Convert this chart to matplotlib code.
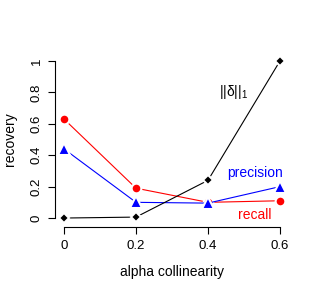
import matplotlib
matplotlib.use('Agg')
import matplotlib.pyplot as plt

plt.rcParams['font.family'] = ['Liberation Sans', 'DejaVu Sans']
plt.rcParams['mathtext.fontset'] = 'custom'
plt.rcParams['mathtext.rm'] = 'Liberation Sans'

alpha = [0, 0.2, 0.4, 0.6]
delta_norm = [0.0, 0.006, 0.24, 1.0]
recall = [0.63, 0.19, 0.10, 0.11]
precision = [0.44, 0.10, 0.095, 0.20]

fig = plt.figure(figsize=(3.16, 2.94), dpi=100)
ax = fig.add_axes([0.1753, 0.237, 0.738, 0.577])

ax.plot(alpha, recall, color='red', lw=0.8, marker='o', ms=7,
        mec='white', mew=1.5, mfc='red', zorder=3)
ax.plot(alpha, precision, color='blue', lw=0.8, marker='^', ms=8,
        mec='white', mew=1.5, mfc='blue', zorder=4)
ax.plot(alpha, delta_norm, color='black', lw=0.8, marker='D', ms=5.5,
        mec='white', mew=1.5, mfc='black', zorder=5)

ax.text(0.47, 0.80, r'$\mathrm{||δ||_1}$', color='black', fontsize=10, ha='center', va='center')
ax.text(0.53, 0.285, 'precision', color='blue', fontsize=10, ha='center', va='center')
ax.text(0.53, 0.02, 'recall', color='red', fontsize=10, ha='center', va='center')

ax.set_xlim(-0.024, 0.624)
ax.set_ylim(-0.04, 1.04)
ax.set_xticks([0, 0.2, 0.4, 0.6])
ax.set_xticklabels(['0', '0.2', '0.4', '0.6'])
ax.set_yticks([0, 0.2, 0.4, 0.6, 0.8, 1])
ax.set_yticklabels(['0', '0.2', '0.4', '0.6', '0.8', '1'], rotation=90, va='center')

for s in ['top', 'right']:
    ax.spines[s].set_visible(False)
ax.spines['left'].set_bounds(0, 1)
ax.spines['bottom'].set_bounds(0, 0.6)
ax.spines['bottom'].set_position(('outward', 2))
for s in ['left', 'bottom']:
    ax.spines[s].set_linewidth(0.8)
ax.tick_params(length=5, width=0.8, labelsize=9.5, pad=4)

ax.set_xlabel('alpha collinearity', fontsize=10, va='center')
ax.xaxis.set_label_coords(0.5, -0.281)
ax.set_ylabel('recovery', fontsize=10, va='center')
ax.yaxis.set_label_coords(-0.195, 0.5)

fig.savefig('out.png', dpi=100)
